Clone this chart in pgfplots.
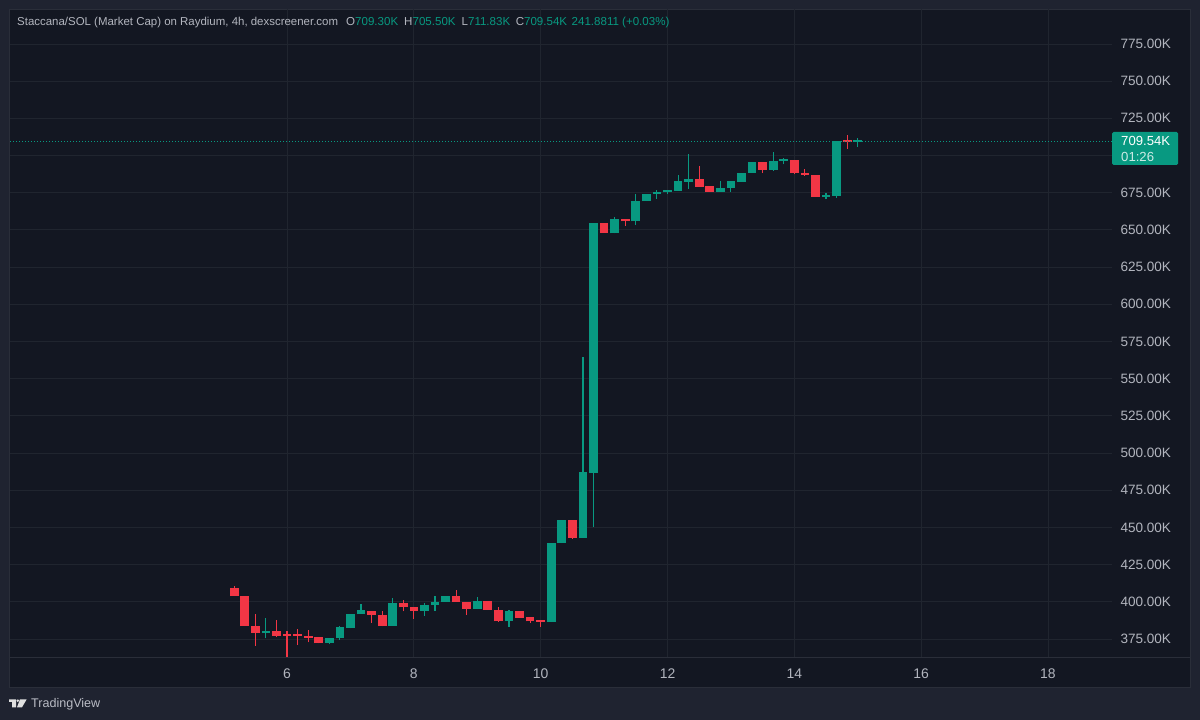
\documentclass[border=0pt]{standalone}
\usepackage{pgfplots}
\usepackage{pgfplotstable}
\usepackage{fontspec}
\setmainfont{Liberation Sans}
\pgfplotsset{compat=1.18}
\definecolor{outerbg}{HTML}{1F2330}
\definecolor{innerbg}{HTML}{131722}
\definecolor{gridc}{HTML}{20252F}
\definecolor{sepc}{HTML}{2A2E39}
\definecolor{upc}{HTML}{089981}
\definecolor{downc}{HTML}{F23645}
\definecolor{txt}{HTML}{B2B5BE}
\pgfplotstableread{
x bl bh l h
5.1667 403.9 409.3 403.9 410.6
5.3333 383.7 404.1 383.7 404.1
5.5000 379.0 383.7 370.3 391.6
5.8333 377.2 380.4 376.5 387.8
6.0000 377.0 378.2 362.7 380.4
6.1667 377.0 378.2 371.0 381.9
6.3333 376.0 377.2 372.8 381.1
6.5000 372.1 376.3 372.1 376.3
7.3333 391.3 394.0 386.0 394.0
7.5000 383.7 391.3 383.5 394.0
7.8333 396.3 399.4 393.6 401.2
8.0000 394.0 396.3 388.6 396.3
8.6667 399.9 404.1 399.9 407.9
8.8333 395.2 399.9 391.3 399.9
9.1667 394.7 400.3 394.7 400.3
9.3333 386.9 394.7 386.6 396.7
9.6667 389.3 393.6 389.3 393.6
9.8333 386.9 389.6 386.0 390.0
10.0000 386.6 387.8 383.1 387.8
10.5000 443.1 454.8 442.2 454.8
11.0000 648.0 654.5 648.0 654.5
11.3333 655.8 657.6 652.7 657.6
12.5000 678.9 684.4 678.9 693.0
12.6667 675.5 679.3 675.5 679.3
13.5000 690.3 695.7 688.1 695.7
14.0000 688.1 696.8 687.4 696.8
14.1667 687.0 688.3 686.3 690.8
14.3333 672.1 687.1 672.1 687.1
14.8333 709.1 710.3 704.4 713.8
}\downtable
\pgfplotstableread{
x bl bh l h
5.6667 379.0 380.4 375.5 389.3
6.6667 372.3 375.7 371.6 375.7
6.8333 375.5 382.9 374.5 383.9
7.0000 382.6 392.0 382.2 392.0
7.1667 391.8 394.3 391.8 398.7
7.6667 383.9 399.4 383.9 402.6
8.1667 394.0 397.7 390.7 399.4
8.3333 397.7 400.1 394.0 403.9
8.5000 399.9 404.1 399.9 404.1
9.0000 395.2 400.3 395.0 403.4
9.5000 386.9 393.6 383.3 394.3
10.1667 386.4 439.7 386.4 439.7
10.3333 439.5 454.8 439.5 454.8
10.6667 443.1 487.1 443.1 564.4
10.8333 486.8 654.5 450.5 654.5
11.1667 647.7 657.4 647.7 658.5
11.5000 655.8 669.5 653.3 674.0
11.6667 669.3 674.0 669.3 674.0
11.8333 674.3 675.6 671.0 676.5
12.0000 675.3 676.6 674.0 677.1
12.1667 676.2 682.7 676.2 687.1
12.3333 682.4 684.4 677.5 701.0
12.8333 675.5 678.2 675.5 682.9
13.0000 678.2 682.7 675.5 682.7
13.1667 682.4 688.5 682.4 688.5
13.3333 688.3 695.9 688.3 695.9
13.6667 690.5 696.1 689.6 702.2
13.8333 696.2 697.4 694.1 698.2
14.5000 672.2 673.4 670.6 675.0
14.6667 673.0 709.8 671.5 709.8
15.0000 709.1 710.3 706.0 711.6
}\uptable
\pgfplotstableread{
x y
1.631 709.54
19.01 709.54
}\lasttable
\begin{document}
\begin{tikzpicture}[x=1bp,y=1bp]
\fill[outerbg] (0,0) rectangle (1200,720);
\fill[innerbg,draw=sepc,line width=0.8bp] (9.5,33) rectangle (1190,711);
\begin{axis}[
  at={(10bp,63bp)}, anchor=south west,
  scale only axis, width=1102bp, height=648bp,
  xmin=1.631, xmax=19.01, ymin=362.9, ymax=798.5,
  clip=true,
  axis line style={draw=none},
  axis x line*=bottom, axis y line*=right,
  xtick={6,8,10,12,14,16,18},
  xticklabels={6,8,10,12,14,16,18},
  ytick={375,400,425,450,475,500,525,550,575,600,625,650,675,700,725,750,775},
  yticklabels={375.00K,400.00K,425.00K,450.00K,475.00K,500.00K,525.00K,550.00K,575.00K,600.00K,625.00K,650.00K,675.00K,{},725.00K,750.00K,775.00K},
  major tick length=0pt,
  tick style={draw=none},
  grid=major,
  major grid style={draw=gridc,line width=0.8bp},
  xticklabel style={font=\fontsize{14}{16}\selectfont,text=txt,yshift=-8.5bp},
  yticklabel style={font=\fontsize{13.6}{15}\selectfont,text=txt,anchor=west,xshift=5bp},
]
\addplot[draw=none,no markers,forget plot,error bars/.cd,y dir=plus,y explicit,error mark=none,
  error bar style={downc,line width=1.1bp}]
  table[x=x,y=l,y error expr=\thisrow{h}-\thisrow{l}] {\downtable};
\addplot[draw=none,no markers,forget plot,error bars/.cd,y dir=plus,y explicit,error mark=none,
  error bar style={upc,line width=1.1bp}]
  table[x=x,y=l,y error expr=\thisrow{h}-\thisrow{l}] {\uptable};
\addplot[draw=none,no markers,forget plot,error bars/.cd,y dir=plus,y explicit,error mark=none,
  error bar style={downc,line width=8.7bp}]
  table[x=x,y=bl,y error expr=\thisrow{bh}-\thisrow{bl}] {\downtable};
\addplot[draw=none,no markers,forget plot,error bars/.cd,y dir=plus,y explicit,error mark=none,
  error bar style={upc,line width=8.7bp}]
  table[x=x,y=bl,y error expr=\thisrow{bh}-\thisrow{bl}] {\uptable};
\addplot[upc,line width=1bp,dash pattern=on 1bp off 2bp,no markers,forget plot] table[x=x,y=y] {\lasttable};
\end{axis}
\draw[sepc,line width=1bp] (10,62) -- (1190,62);
\fill[upc,rounded corners=1.5bp] (1112,555) rectangle (1178,588);
\node[anchor=west,inner sep=0pt,text=white] at (1121,579) {\fontsize{13.2}{14}\selectfont 709.54K};
\node[anchor=west,inner sep=0pt,text=white!80!upc] at (1121,563) {\fontsize{13.2}{14}\selectfont 01:26};
\node[anchor=west,inner sep=0pt,text=txt] at (17,697) {\fontsize{11.5}{14}\selectfont Staccana/SOL (Market Cap) on Raydium, 4h, dexscreener.com};
\node[anchor=west,inner sep=0pt] at (346,697) {\fontsize{11.6}{14}\selectfont\textcolor{txt}{O}\textcolor{upc}{709.30K}\hspace{6bp}\textcolor{txt}{H}\textcolor{upc}{705.50K}\hspace{6bp}\textcolor{txt}{L}\textcolor{upc}{711.83K}\hspace{5.5bp}\textcolor{txt}{C}\textcolor{upc}{709.54K}\hspace{4.5bp}\textcolor{upc}{241.8811 (+0.03\%)}};
\fill[white!88!black] (9,20.7) -- (16,20.7) -- (16,12.7) -- (12,12.7) -- (12,18) -- (9,18) -- cycle;
\fill[white!88!black] (17.8,19.3) circle[radius=1.4];
\fill[white!88!black] (20,20.7) -- (26.7,20.7) -- (22,12.7) -- (17,12.7) -- cycle;
\node[anchor=west,inner sep=0pt,text=txt!90!white] at (31,16) {\fontsize{12.6}{15}\selectfont TradingView};
\end{tikzpicture}
\end{document}
